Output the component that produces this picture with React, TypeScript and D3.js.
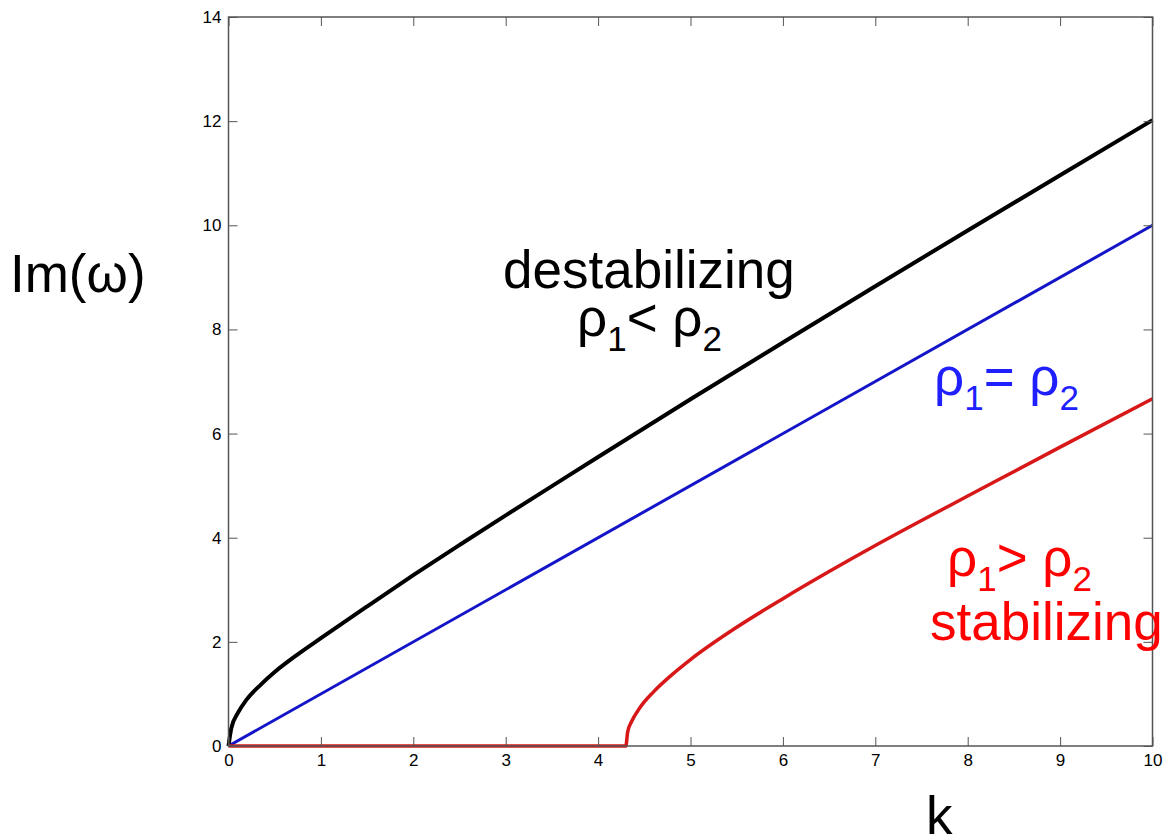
import React, { useEffect, useRef } from 'react';
import * as d3 from 'd3';

// values
const kTicks = [0, 1, 2, 3, 4, 5, 6, 7, 8, 9, 10];
const imTicks = [0, 2, 4, 6, 8, 10, 12, 14];

const blackK = [0, 0.03, 0.1, 0.2, 0.35, 0.5, 0.75, 1, 1.5, 2, 2.5, 3, 3.5, 4, 5, 6, 7, 8, 9, 10];
const blackIm = [0, 0.34, 0.63, 0.9, 1.18, 1.42, 1.76, 2.07, 2.68, 3.28, 3.86, 4.43, 4.99, 5.55, 6.66, 7.75, 8.83, 9.9, 10.96, 12.02];

const blueK = [0, 10];
const blueIm = [0, 10];

const redK = [0, 4.3, 4.32, 4.36, 4.45, 4.6, 4.8, 5, 5.5, 6, 6.5, 7, 7.5, 8, 9, 10];
const redIm = [0, 0, 0.27, 0.46, 0.73, 1.04, 1.37, 1.66, 2.28, 2.83, 3.35, 3.85, 4.33, 4.8, 5.74, 6.67];

const FONT = 'Liberation Sans, Arial, Helvetica, sans-serif';

export default function App() {
  const ref = useRef<SVGSVGElement | null>(null);

  useEffect(() => {
    const width = 1167;
    const height = 840;
    const left = 228.5;
    const right = 1152.5;
    const top = 17;
    const bottom = 746;

    const svg = d3.select(ref.current);
    svg.selectAll('*').remove();
    svg.attr('width', width).attr('height', height);

    const x = d3.scaleLinear().domain([0, 10]).range([left, right]);
    const y = d3.scaleLinear().domain([0, 14]).range([bottom, top]);

    const line = d3
      .line<[number, number]>()
      .x((d) => x(d[0]))
      .y((d) => y(d[1]))
      .curve(d3.curveMonotoneX);

    const zip = (a: number[], b: number[]) => a.map((v, i) => [v, b[i]] as [number, number]);

    svg.append('rect').attr('width', width).attr('height', height).attr('fill', '#fff');

    // curves
    svg
      .append('path')
      .attr('d', line(zip(blueK, blueIm)))
      .attr('fill', 'none')
      .attr('stroke', '#1414c8')
      .attr('stroke-width', 3);
    svg
      .append('path')
      .attr('d', line(zip(blackK, blackIm)))
      .attr('fill', 'none')
      .attr('stroke', '#000')
      .attr('stroke-width', 4);
    svg
      .append('path')
      .attr('d', line(zip(redK, redIm)))
      .attr('fill', 'none')
      .attr('stroke', '#d81818')
      .attr('stroke-width', 3.5);

    // axes
    const styleAxis = (g: any) => {
      g.select('.domain').remove();
      g.selectAll('line').attr('stroke', '#555');
      g.selectAll('text').style('font-family', FONT).style('font-size', '17px').attr('fill', '#000');
    };
    svg
      .append('g')
      .attr('transform', `translate(0,${bottom})`)
      .call(d3.axisBottom(x).tickValues(kTicks).tickSizeInner(-9).tickSizeOuter(0).tickPadding(8).tickFormat(d3.format('d')))
      .call(styleAxis);
    svg
      .append('g')
      .attr('transform', `translate(0,${top})`)
      .call(d3.axisTop(x).tickValues(kTicks).tickSizeInner(-9).tickSizeOuter(0).tickFormat(() => ''))
      .call(styleAxis);
    svg
      .append('g')
      .attr('transform', `translate(${left},0)`)
      .call(d3.axisLeft(y).tickValues(imTicks).tickSizeInner(-9).tickSizeOuter(0).tickPadding(7).tickFormat(d3.format('d')))
      .call(styleAxis);
    svg
      .append('g')
      .attr('transform', `translate(${right},0)`)
      .call(d3.axisRight(y).tickValues(imTicks).tickSizeInner(-9).tickSizeOuter(0).tickFormat(() => ''))
      .call(styleAxis);

    svg
      .append('rect')
      .attr('x', left)
      .attr('y', top)
      .attr('width', right - left)
      .attr('height', bottom - top)
      .attr('fill', 'none')
      .attr('stroke', '#555')
      .attr('stroke-width', 1.5);

    // axis titles
    svg
      .append('text')
      .attr('x', 10)
      .attr('y', 292)
      .style('font-family', FONT)
      .style('font-size', '53px')
      .text('Im(ω)');
    svg
      .append('text')
      .attr('x', 926)
      .attr('y', 834)
      .style('font-family', FONT)
      .style('font-size', '53px')
      .text('k');

    // annotations
    const rhoLabel = (xx: number, yy: number, op: string, color: string) => {
      const t = svg
        .append('text')
        .attr('x', xx)
        .attr('y', yy)
        .attr('fill', color)
        .style('font-family', FONT)
        .style('font-size', '53px');
      t.append('tspan').text('ρ');
      t.append('tspan').attr('dy', 15).style('font-size', '35px').text('1');
      t.append('tspan').attr('dy', -15).text(op + ' ρ');
      t.append('tspan').attr('dy', 15).style('font-size', '35px').text('2');
    };

    svg
      .append('text')
      .attr('x', 503)
      .attr('y', 288)
      .style('font-family', FONT)
      .style('font-size', '53px')
      .text('destabilizing');
    rhoLabel(577, 336, '<', '#000');
    rhoLabel(934, 395, '=', '#2020ff');
    rhoLabel(947, 576, '>', '#ff0000');
    svg
      .append('text')
      .attr('x', 930)
      .attr('y', 640)
      .attr('fill', '#ff0000')
      .style('font-family', FONT)
      .style('font-size', '53px')
      .text('stabilizing');
  }, []);

  return <svg ref={ref} style={{ position: 'absolute', left: 0, top: 0 }} />;
}
